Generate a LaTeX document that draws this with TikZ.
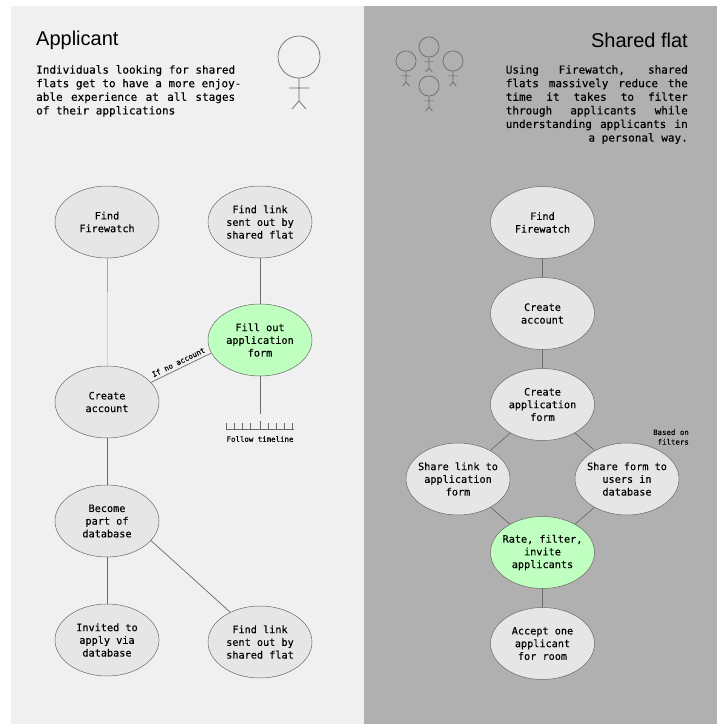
\documentclass[tikz,border=0pt]{standalone}
\usepackage{fontspec}
\setmainfont{Liberation Sans}
\setmonofont[FakeBold=0.2]{DejaVu Sans Mono}
\usetikzlibrary{shapes.geometric}
\definecolor{panelleft}{HTML}{F0F0F0}
\definecolor{panelright}{HTML}{B0B0B0}
\definecolor{stepfill}{HTML}{E6E6E6}
\definecolor{stepgreen}{HTML}{BFFFBF}
\definecolor{edgegrey}{HTML}{6A6A6A}
\tikzstyle{line} = [draw=edgegrey, line width=0.7pt]
\tikzstyle{process} = [ellipse, minimum width=104pt, minimum height=72pt, inner sep=-10pt, align=center, draw=edgegrey, line width=0.5pt, fill=stepfill, font=\fontsize{10.2}{12.7}\selectfont\ttfamily]
\tikzstyle{current} = [process, fill=stepgreen]
\tikzstyle{title} = [inner sep=0pt, font=\fontsize{20}{24}\selectfont]
\tikzstyle{blurb} = [inner sep=0pt, align=left, font=\fontsize{11}{13.6}\selectfont\ttfamily]
\tikzstyle{smalltext} = [inner sep=0pt, align=right, font=\fontsize{7.4}{9.6}\selectfont\ttfamily]
\tikzset{
  stickfigure/.pic={
    \draw [edgegrey, line width=0.7pt] (0,0) circle (21);
    \draw [edgegrey, line width=0.7pt] (0,21) -- (0,44) (-10,31) -- (10,31) (-7,52) -- (0,44) -- (7,52);
  }
}
\newcommand{\fitleft}[1]{{\spaceskip=6.6pt plus 1fil\makebox[199pt][s]{#1}}}
\newcommand{\fitright}[1]{{\spaceskip=6.6pt plus 1fil\makebox[182pt][s]{#1}}}
\begin{document}
\begin{tikzpicture}[x=1pt, y=-1pt, node distance=91pt]
\useasboundingbox (0,0) rectangle (723,724);
\fill [white] (0,0) rectangle (723,724);
\fill [panelleft] (11,6) rectangle (364,724);
\fill [panelright] (364,6) rectangle (717,724);
% Place headers
\node [title, anchor=west] (applicant) at (36,40) {Applicant};
\node [title, anchor=east] (sharedflat) at (688,40) {Shared flat};
\node [blurb, anchor=north west] (applicanttext) at (36,65) {\fitleft{Individuals looking for shared}\\\fitleft{flats get to have a more enjoy-}\\\fitleft{able experience at all stages}\\of their applications};
\node [blurb, anchor=north east, align=right] (sharedflattext) at (688,65) {\fitright{Using Firewatch, shared}\\\fitright{flats massively reduce the}\\\fitright{time it takes to filter}\\\fitright{through applicants while}\\\fitright{understanding applicants in}\\a personal way.};
% Stick figures
\pic at (299,57) {stickfigure};
\pic [scale=0.48] at (429,47) {stickfigure};
\pic [scale=0.48] at (406,61) {stickfigure};
\pic [scale=0.48] at (453,61) {stickfigure};
\pic [scale=0.48] at (429,86) {stickfigure};
% Place applicant nodes
\node [process] (findA) at (107,222) {Find\\Firewatch};
\node [process, below of=findA, node distance=180pt] (accountA) {Create\\account};
\node [process, below of=accountA, node distance=119pt] (database) {Become\\part of\\database};
\node [process, below of=database, node distance=119pt] (invited) {Invited to\\apply via\\database};
\node [process] (linkA) at (260,222) {Find link\\sent out by\\shared flat};
\node [current, below of=linkA, node distance=118pt] (fillout) {Fill out\\application\\form};
\node [process, below of=fillout, node distance=302pt] (linkB) {Find link\\sent out by\\shared flat};
% Place shared flat nodes
\node [process] (findB) at (542.5,222.5) {Find\\Firewatch};
\node [process, below of=findB] (accountB) {Create\\account};
\node [process, below of=accountB] (createform) {Create\\application\\form};
\node [process] (sharelink) at (458,479) {Share link to\\application\\form};
\node [process] (shareform) at (627,479) {Share form to\\users in\\database};
\node [current, below of=createform, node distance=148pt] (rate) {Rate, filter,\\invite\\applicants};
\node [process, below of=rate] (accept) {Accept one\\applicant\\for room};
% Timeline
\coordinate (timelineend) at (260,414);
\path [line, line width=0.5pt] (226,429) -- (294,429);
\foreach \tick in {226,234,242,250,268,276,284,292} {
  \path [line, line width=0.5pt] (\tick,423) -- (\tick,429);
}
\path [line, line width=0.5pt] (260,421) -- (260,429);
\node [smalltext] (timelinelabel) at (260,439) {Follow timeline};
\node [smalltext, anchor=east] (filterlabel) at (689,437) {Based on\\filters};
% Draw edges
\coordinate (findmid) at (107,292);
\path [line, draw=edgegrey!60] (findA) -- (findmid);
\path [line, draw=edgegrey!30] (findmid) -- (accountA);
\path [line] (accountA) -- (database);
\path [line] (database) -- (invited);
\path [line] (database.-24) -- (linkB.135);
\path [line] (linkA) -- (fillout);
\path [line] (fillout) -- (timelineend);
\path [line] (accountA.24) -- node [sloped, above=3pt, smalltext] {If no account} (fillout.195);
\path [line] (findB) -- (accountB);
\path [line] (accountB) -- (createform);
\path [line] (createform) -- (sharelink);
\path [line] (createform) -- (shareform);
\path [line] (sharelink) -- (rate);
\path [line] (shareform) -- (rate);
\path [line] (rate) -- (accept);
\end{tikzpicture}
\end{document}
